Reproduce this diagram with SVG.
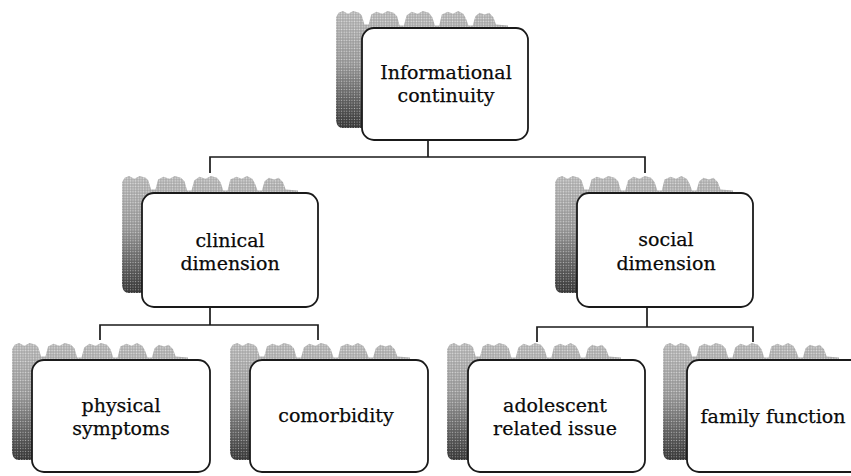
<svg xmlns="http://www.w3.org/2000/svg" xmlns:xlink="http://www.w3.org/1999/xlink" width="851" height="476" viewBox="0 0 851 476">
  <style>
    .box { fill: #ffffff; stroke: #1a1a1a; stroke-width: 1.8; }
    .lbl { font-family: "DejaVu Serif", "Liberation Serif", serif; font-size: 19px; fill: #0a0a0a; stroke: #0a0a0a; stroke-width: 0.25; text-anchor: middle; }
    .conn { fill: none; stroke: #1a1a1a; stroke-width: 1.7; }
  </style>
  <defs>
    <linearGradient id="shadeGrad" x1="0" y1="0" x2="0" y2="1">
      <stop offset="0" stop-color="#c0c0c0"/>
      <stop offset="0.45" stop-color="#a0a0a0"/>
      <stop offset="1" stop-color="#3c3c3c"/>
    </linearGradient>
    <pattern id="dither" width="3" height="3" patternUnits="userSpaceOnUse">
      <rect x="0" y="0" width="1" height="1" fill="#ffffff" fill-opacity="0.55"/>
      <rect x="1.5" y="1.5" width="1" height="1" fill="#000000" fill-opacity="0.35"/>
    </pattern>
    <symbol id="shadow" viewBox="0 0 200 130" preserveAspectRatio="none">
      <path d="M0,8 L3,3 8,1 14,4 20,1 27,3 30,6 33,16 38,16 41,5 47,2 54,4 60,1 67,3 71,7 74,17 79,17 82,6 88,2 95,4 101,1 108,3 112,8 115,17 120,17 123,5 130,2 136,4 142,1 148,4 151,9 154,17 159,17 162,7 167,3 173,5 178,3 183,8 186,16 L200,17 L200,130 L6,130 Q0,128 0,120 Z" fill="url(#shadeGrad)"/>
      <path d="M0,8 L3,3 8,1 14,4 20,1 27,3 30,6 33,16 38,16 41,5 47,2 54,4 60,1 67,3 71,7 74,17 79,17 82,6 88,2 95,4 101,1 108,3 112,8 115,17 120,17 123,5 130,2 136,4 142,1 148,4 151,9 154,17 159,17 162,7 167,3 173,5 178,3 183,8 186,16 L200,17 L200,130 L6,130 Q0,128 0,120 Z" fill="url(#dither)"/>
    </symbol>
  </defs>

  <g id="connectors">
    <path class="conn" d="M428,140 V157 M210,173 V157 H645 V173"/>
    <path class="conn" d="M210,307 V325 M100,340 V325 H318 V340"/>
    <path class="conn" d="M647,307 V327 M537,342 V327 H753 V342"/>
  </g>

  <g id="node-informational">
    <use xlink:href="#shadow" x="336" y="10" width="172" height="118"/>
    <rect class="box" x="362" y="28" width="166" height="112" rx="12"/>
    <text class="lbl" x="446" y="79">Informational</text>
    <text class="lbl" x="446" y="102">continuity</text>
  </g>

  <g id="node-clinical">
    <use xlink:href="#shadow" x="122" y="175" width="176" height="118"/>
    <rect class="box" x="142" y="193" width="176" height="114" rx="12"/>
    <text class="lbl" x="230" y="247">clinical</text>
    <text class="lbl" x="230" y="270">dimension</text>
  </g>

  <g id="node-social">
    <use xlink:href="#shadow" x="555" y="175" width="178" height="118"/>
    <rect class="box" x="577" y="193" width="176" height="114" rx="12"/>
    <text class="lbl" x="666" y="246">social</text>
    <text class="lbl" x="666" y="270">dimension</text>
  </g>

  <g id="node-physical">
    <use xlink:href="#shadow" x="12" y="342" width="176" height="118"/>
    <rect class="box" x="32" y="360" width="178" height="112" rx="12"/>
    <text class="lbl" x="121" y="412">physical</text>
    <text class="lbl" x="121" y="435">symptoms</text>
  </g>

  <g id="node-comorbidity">
    <use xlink:href="#shadow" x="230" y="342" width="180" height="118"/>
    <rect class="box" x="250" y="360" width="178" height="112" rx="12"/>
    <text class="lbl" x="336" y="422">comorbidity</text>
  </g>

  <g id="node-adolescent">
    <use xlink:href="#shadow" x="447" y="342" width="174" height="118"/>
    <rect class="box" x="468" y="360" width="177" height="112" rx="12"/>
    <text class="lbl" x="555" y="412">adolescent</text>
    <text class="lbl" x="555" y="435">related issue</text>
  </g>

  <g id="node-family">
    <use xlink:href="#shadow" x="663" y="342" width="176" height="118"/>
    <rect class="box" x="687" y="360" width="180" height="112" rx="12"/>
    <text class="lbl" x="773" y="423">family function</text>
  </g>
</svg>
